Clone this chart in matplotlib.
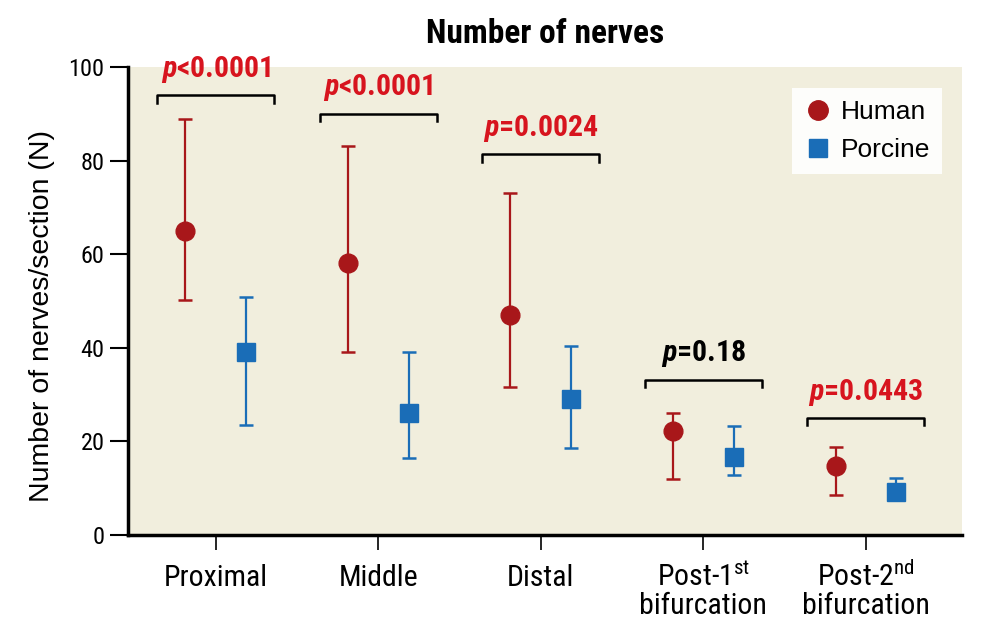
import matplotlib
matplotlib.use("Agg")
import matplotlib.pyplot as plt
import numpy as np

# values
categories = ["Proximal", "Middle", "Distal",
              "Post-1$^{\\mathrm{st}}$", "Post-2$^{\\mathrm{nd}}$"]
second_line = ["", "", "", "bifurcation", "bifurcation"]
human_mean = [65.0, 58.1, 47.0, 22.3, 14.7]
human_low = [50.2, 39.1, 31.6, 12.0, 8.5]
human_high = [88.9, 83.1, 73.1, 26.0, 18.7]
porcine_mean = [39.0, 26.1, 29.0, 16.7, 9.2]
porcine_low = [23.5, 16.5, 18.6, 12.8, 7.6]
porcine_high = [50.9, 39.1, 40.3, 23.3, 12.1]
p_labels = ["<0.0001", "<0.0001", "=0.0024", "=0.18", "=0.0443"]
p_significant = [True, True, True, False, True]
bracket_y = [94.0, 90.0, 81.4, 33.2, 25.0]

narrow = "Roboto Condensed"
plain = "Liberation Sans"

plt.rcParams["mathtext.fontset"] = "custom"
plt.rcParams["mathtext.rm"] = narrow
plt.rcParams["mathtext.it"] = narrow + ":italic:bold"
plt.rcParams["mathtext.bf"] = narrow + ":bold"

RED = "#a8171a"
BLUE = "#1a6db7"
PRED = "#d7141e"

fig = plt.figure(figsize=(10.05, 6.41), dpi=100)
ax = fig.add_axes([0.1274, 0.1654, 0.8296, 0.7301])
ax.set_facecolor("#f1eedd")

x = np.arange(len(categories))
off = 0.187

hm = np.array(human_mean)
pm = np.array(porcine_mean)
ax.errorbar(x - off, hm, yerr=[hm - np.array(human_low), np.array(human_high) - hm],
            fmt="o", color=RED, ms=13.5, elinewidth=1.6, capsize=5, capthick=1.8,
            label="Human", zorder=3)
ax.errorbar(x + off, pm, yerr=[pm - np.array(porcine_low), np.array(porcine_high) - pm],
            fmt="s", color=BLUE, ms=12.5, elinewidth=1.6, capsize=5, capthick=1.8,
            label="Porcine", zorder=3)

# significance brackets
for i in range(len(categories)):
    y = bracket_y[i]
    ax.plot([i - 0.36, i - 0.36, i + 0.36, i + 0.36], [y - 1.6, y, y, y - 1.6],
            color="black", lw=1.8, clip_on=False)
    col = PRED if p_significant[i] else "black"
    ax.text(i, y + 2.2, "$\\mathit{p}$" + p_labels[i], ha="center", va="bottom",
            fontsize=21.5, fontweight="bold", color=col, family=narrow, clip_on=False)

ax.set_xlim(-0.54, 4.59)
ax.set_ylim(0, 100)
ax.set_yticks([0, 20, 40, 60, 80, 100])
ax.set_xticks(x)
ax.set_xticklabels(categories, family=narrow, fontsize=21.5)
# first lines sit on a common baseline, second lines drawn underneath
for lab in ax.get_xticklabels():
    lab.set_verticalalignment("baseline")
for i, s in enumerate(second_line):
    if s:
        ax.annotate(s, xy=(i, 0), xycoords=("data", "axes fraction"),
                    xytext=(0, -57), textcoords="offset points", ha="center",
                    va="baseline", family=narrow, fontsize=21.5, annotation_clip=False)
for lab in ax.get_yticklabels():
    lab.set_family(narrow)
    lab.set_fontsize(17.5)
ax.tick_params(axis="y", length=13, width=1.5, pad=4)
ax.tick_params(axis="x", length=11, width=1.2, pad=25.5)

for s in ["top", "right"]:
    ax.spines[s].set_visible(False)
for s in ["left", "bottom"]:
    ax.spines[s].set_linewidth(2.5)

ax.set_ylabel("Number of nerves/section (N)", family=plain, fontsize=20.5)
ax.yaxis.set_label_coords(-0.088, 0.468)
ax.set_title("Number of nerves", family=narrow, fontsize=24, fontweight="bold", pad=17)

# legend: markers only, no error bar glyphs
h1, = ax.plot([], [], "o", color=RED, ms=14)
h2, = ax.plot([], [], "s", color=BLUE, ms=13)
leg = ax.legend([h1, h2], ["Human", "Porcine"], loc="upper right",
                bbox_to_anchor=(0.976, 0.955), borderaxespad=0, frameon=True,
                prop={"family": plain, "size": 19}, handletextpad=0.3,
                borderpad=0.45, labelspacing=0.55, handlelength=1.1, numpoints=1)
leg.get_frame().set_facecolor("#fdfdfb")
leg.get_frame().set_edgecolor("none")
leg.get_frame().set_alpha(1)
leg.get_frame().set_boxstyle("square", pad=0)

fig.savefig("out.png", dpi=100)
